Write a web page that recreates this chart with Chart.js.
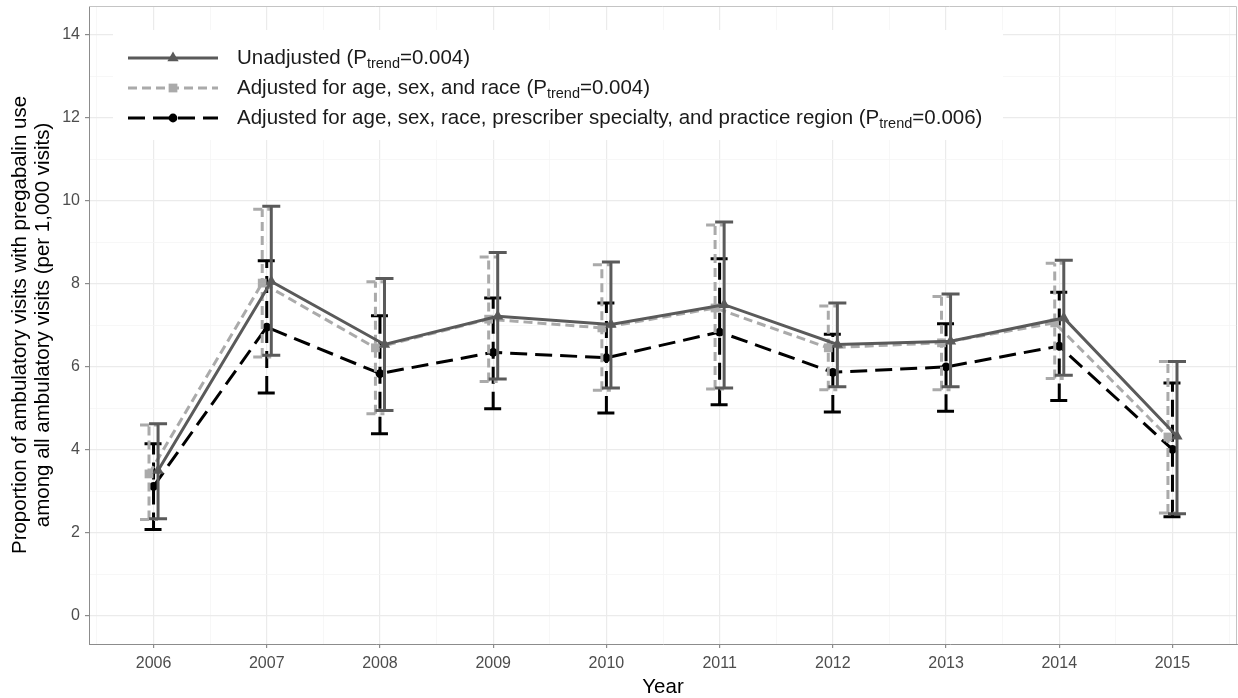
<!DOCTYPE html>
<html>
<head>
<meta charset="utf-8">
<script src="https://cdn.jsdelivr.net/npm/chart.js@4/dist/chart.umd.min.js"></script>
<style>
  html, body { margin: 0; padding: 0; background: #ffffff; }
  #wrap { width: 1238px; height: 698px; position: relative; }
</style>
</head>
<body>
<div id="wrap"><canvas id="c" width="1238" height="698"></canvas></div>
<script>
// Survey years
const years = [2006, 2007, 2008, 2009, 2010, 2011, 2012, 2013, 2014, 2015];

// Unadjusted rate per 1,000 visits with 95% CI
const unadjusted      = [3.50, 8.06, 6.54, 7.22, 7.02, 7.50, 6.54, 6.62, 7.18, 4.33];
const unadjustedLower = [2.34, 6.28, 4.95, 5.71, 5.49, 5.49, 5.52, 5.52, 5.80, 2.46];
const unadjustedUpper = [4.63, 9.87, 8.13, 8.76, 8.53, 9.49, 7.54, 7.76, 8.57, 6.13];

// Adjusted for age, sex, and race
const adjDemo      = [3.42, 8.02, 6.46, 7.15, 6.94, 7.42, 6.46, 6.58, 7.06, 4.31];
const adjDemoLower = [2.32, 6.24, 4.87, 5.65, 5.44, 5.47, 5.45, 5.45, 5.72, 2.48];
const adjDemoUpper = [4.60, 9.80, 8.05, 8.65, 8.46, 9.42, 7.47, 7.70, 8.50, 6.13];

// Adjusted for age, sex, race, prescriber specialty, and practice region
const adjFull      = [3.12, 6.96, 5.84, 6.35, 6.22, 6.84, 5.87, 6.00, 6.50, 4.01];
const adjFullLower = [2.08, 5.37, 4.39, 4.99, 4.89, 5.09, 4.91, 4.93, 5.19, 2.39];
const adjFullUpper = [4.15, 8.56, 7.23, 7.66, 7.54, 8.61, 6.79, 7.04, 7.80, 5.61];

// Axis tick values
const yTickValues = [0, 2, 4, 6, 8, 10, 12, 14];
const xTickLabels = ['2006', '2007', '2008', '2009', '2010', '2011', '2012', '2013', '2014', '2015'];

// Legend labels: [before subscript, subscript, after subscript]
const legendLabels = [
  ['Unadjusted (P', 'trend', '=0.004)'],
  ['Adjusted for age, sex, and race (P', 'trend', '=0.004)'],
  ['Adjusted for age, sex, race, prescriber specialty, and practice region (P', 'trend', '=0.006)']
];

const FONT = '"Liberation Sans", Arial, Helvetica, sans-serif';
const DARK = '#5a5a5a', LIGHT = '#aaaaaa', BLACK = '#000000';

function toPoints(vals, dodge) {
  return years.map((yr, i) => ({ x: yr + dodge, y: vals[i] }));
}

const series = [
  { label: legendLabels[0].join(''), vals: unadjusted, lower: unadjustedLower, upper: unadjustedUpper,
    dodge: 0.04, color: DARK, dash: [], width: 3, pointStyle: 'triangle', radius: 6.5 },
  { label: legendLabels[1].join(''), vals: adjDemo, lower: adjDemoLower, upper: adjDemoUpper,
    dodge: -0.04, color: LIGHT, dash: [9, 5], width: 3, pointStyle: 'rect', radius: 6.2 },
  { label: legendLabels[2].join(''), vals: adjFull, lower: adjFullLower, upper: adjFullUpper,
    dodge: 0, color: BLACK, dash: [17, 8], width: 3, pointStyle: 'circle', radius: 4.4 }
];

const datasets = series.map(s => ({
  label: s.label,
  data: toPoints(s.vals, s.dodge),
  lower: s.lower,
  upper: s.upper,
  dodge: s.dodge,
  borderColor: s.color,
  backgroundColor: s.color,
  borderWidth: s.width,
  borderDash: s.dash,
  pointStyle: s.pointStyle,
  pointRadius: s.radius,
  pointBackgroundColor: s.color,
  pointBorderColor: s.color,
  pointBorderWidth: 0,
  pointHoverRadius: s.radius,
  tension: 0,
  fill: false
}));

// Vertical confidence-interval bars with caps, drawn under each series' line
const errorBars = {
  id: 'errorBars',
  beforeDatasetDraw(chart, args) {
    const ds = chart.data.datasets[args.index];
    const xs = chart.scales.x, ys = chart.scales.y;
    const ctx = chart.ctx;
    const cap = 9;
    ctx.save();
    ctx.strokeStyle = ds.borderColor;
    ctx.lineWidth = ds.borderWidth;
    ctx.setLineDash(ds.borderDash);
    ctx.lineCap = 'butt';
    years.forEach((yr, i) => {
      const x = xs.getPixelForValue(yr + ds.dodge);
      const yLo = ys.getPixelForValue(ds.lower[i]);
      const yHi = ys.getPixelForValue(ds.upper[i]);
      ctx.beginPath();
      ctx.moveTo(x, yLo); ctx.lineTo(x, yHi);
      ctx.moveTo(x - cap, yHi); ctx.lineTo(x + cap, yHi);
      ctx.moveTo(x - cap, yLo); ctx.lineTo(x + cap, yLo);
      ctx.stroke();
    });
    ctx.restore();
  }
};

// Panel frame around the plotting area
const panelFrame = {
  id: 'panelFrame',
  afterDraw(chart) {
    const { left, right, top, bottom } = chart.chartArea;
    const ctx = chart.ctx;
    ctx.save();
    ctx.lineWidth = 1;
    ctx.strokeStyle = '#c4c4c4';
    ctx.beginPath();
    ctx.moveTo(left, top + 0.5); ctx.lineTo(right - 0.5, top + 0.5);
    ctx.lineTo(right - 0.5, bottom);
    ctx.stroke();
    ctx.restore();
  }
};

// Legend inside the panel, with subscripted "trend"
const insetLegend = {
  id: 'insetLegend',
  beforeDatasetsDraw(chart) {
    const ctx = chart.ctx;
    const boxLeft = 113, boxTop = 30, boxRight = 1003, boxBottom = 140;
    const keyX0 = 128, keyX1 = 218, textX = 237, rowY0 = 58, rowStep = 30;
    ctx.save();
    ctx.fillStyle = '#ffffff';
    ctx.fillRect(boxLeft, boxTop, boxRight - boxLeft, boxBottom - boxTop);
    chart.data.datasets.forEach((ds, i) => {
      const y = rowY0 + i * rowStep;
      ctx.strokeStyle = ds.borderColor;
      ctx.lineWidth = ds.borderWidth;
      ctx.setLineDash(ds.borderDash);
      ctx.beginPath();
      ctx.moveTo(keyX0, y); ctx.lineTo(keyX1, y);
      ctx.stroke();
      ctx.setLineDash([]);
      ctx.fillStyle = ds.pointBackgroundColor;
      Chart.helpers.drawPoint(ctx, {
        pointStyle: ds.pointStyle, radius: ds.pointRadius, rotation: 0, borderWidth: 0
      }, (keyX0 + keyX1) / 2, y);
      const parts = legendLabels[i];
      ctx.fillStyle = '#1a1a1a';
      ctx.textBaseline = 'middle';
      ctx.textAlign = 'left';
      let x = textX;
      ctx.font = '20.5px ' + FONT;
      ctx.fillText(parts[0], x, y);
      x += ctx.measureText(parts[0]).width;
      ctx.font = '14.5px ' + FONT;
      ctx.fillText(parts[1], x, y + 5.5);
      x += ctx.measureText(parts[1]).width;
      ctx.font = '20.5px ' + FONT;
      ctx.fillText(parts[2], x, y);
    });
    ctx.restore();
  }
};

const isEven = v => Math.round(v) % 2 === 0;

// Remove the extra edge padding Chart.js reserves for tick labels
function clearPadding(axis) {
  axis.paddingTop = 0; axis.paddingBottom = 0;
  axis.paddingLeft = 0; axis.paddingRight = 0;
}

new Chart(document.getElementById('c'), {
  type: 'line',
  data: { datasets },
  plugins: [errorBars, insetLegend, panelFrame],
  options: {
    responsive: false,
    animation: false,
    devicePixelRatio: 1,
    layout: { autoPadding: false, padding: { top: 6, right: 1, left: 0, bottom: 0 } },
    plugins: {
      legend: { display: false },
      tooltip: { enabled: false }
    },
    scales: {
      x: {
        type: 'linear',
        min: 2005.43,
        max: 2015.57,
        afterBuildTicks(axis) {
          const t = [];
          years.forEach(yr => { t.push({ value: yr - 0.5 }); t.push({ value: yr }); });
          t.push({ value: years[years.length - 1] + 0.5 });
          axis.ticks = t;
        },
        afterFit(axis) { axis.height = 54; clearPadding(axis); },
        ticks: {
          autoSkip: false,
          maxRotation: 0,
          padding: 6,
          color: '#4d4d4d',
          font: { family: FONT, size: 16 },
          callback(v) {
            const i = years.indexOf(v);
            return i >= 0 ? xTickLabels[i] : '';
          }
        },
        grid: {
          color: c => Number.isInteger(c.tick.value) ? '#ebebeb' : '#f5f5f5',
          lineWidth: c => Number.isInteger(c.tick.value) ? 1.2 : 0.8,
          tickColor: c => Number.isInteger(c.tick.value) ? '#8c8c8c' : 'rgba(0,0,0,0)',
          tickLength: 4,
          drawTicks: true
        },
        border: { display: true, color: '#8c8c8c', width: 1 },
        title: {
          display: true,
          text: 'Year',
          color: '#000000',
          font: { family: FONT, size: 20.5, lineHeight: 1.0 },
          padding: { top: 0, bottom: 0 }
        }
      },
      y: {
        type: 'linear',
        min: -0.68,
        max: 14.7,
        afterBuildTicks(axis) {
          const t = [];
          for (let v = 0; v <= 14; v++) t.push({ value: v });
          axis.ticks = t;
        },
        afterFit(axis) { axis.width = 89; clearPadding(axis); },
        ticks: {
          autoSkip: false,
          padding: 5,
          color: '#4d4d4d',
          font: { family: FONT, size: 16 },
          callback(v) { return yTickValues.includes(v) ? String(v) : ''; }
        },
        grid: {
          color: c => isEven(c.tick.value) ? '#ebebeb' : '#f5f5f5',
          lineWidth: c => isEven(c.tick.value) ? 1.2 : 0.8,
          tickColor: c => isEven(c.tick.value) ? '#8c8c8c' : 'rgba(0,0,0,0)',
          tickLength: 4,
          drawTicks: true
        },
        border: { display: true, color: '#8c8c8c', width: 1 },
        title: {
          display: true,
          text: ['Proportion of ambulatory visits with pregabalin use',
                 'among all ambulatory visits (per 1,000 visits)'],
          color: '#000000',
          font: { family: FONT, size: 20.5, lineHeight: 1.12 },
          padding: { top: 9, bottom: 0 }
        }
      }
    }
  }
});
</script>
</body>
</html>
